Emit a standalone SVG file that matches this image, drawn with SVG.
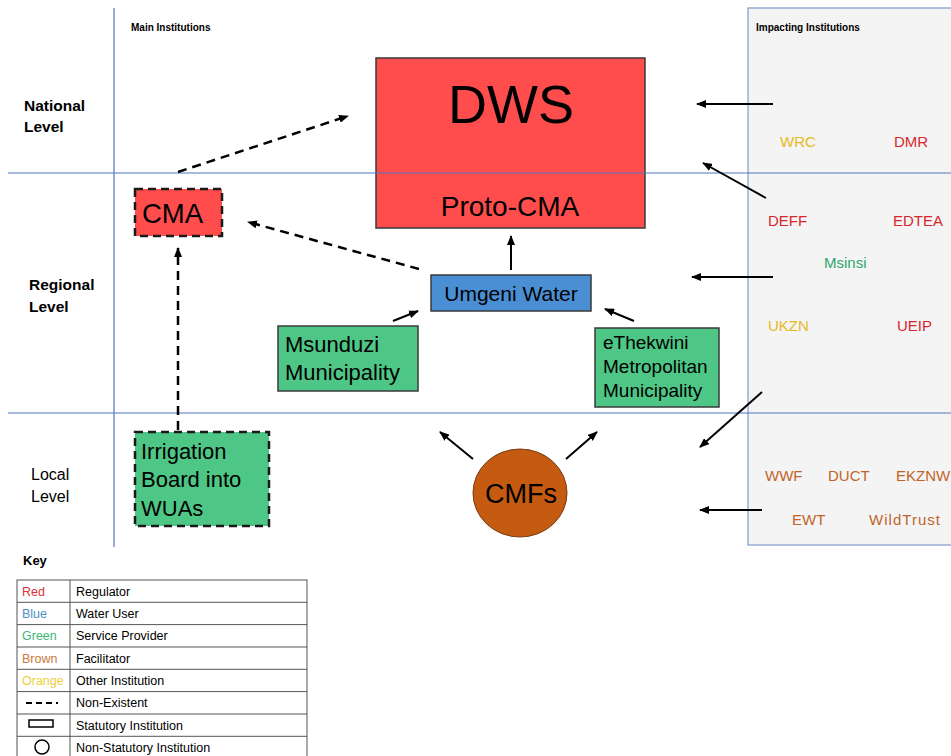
<svg xmlns="http://www.w3.org/2000/svg" width="951" height="756" viewBox="0 0 951 756">
<defs>
<marker id="ah" markerWidth="10" markerHeight="8" refX="9" refY="4" orient="auto" markerUnits="userSpaceOnUse">
<path d="M0,0 L10,4 L0,8 Z" fill="#000"/>
</marker>
<style>
text{font-family:"Liberation Sans",Arial,sans-serif;fill:#000}
.grid{stroke:#5477bf;stroke-width:1.2;fill:none}
.box{stroke:#3a3a3a;stroke-width:1.5}
.dashbox{stroke:#1a1a1a;stroke-width:2.5;stroke-dasharray:8,5}
.red{fill:#ff4d4d}
.blue{fill:#4a8fd4}
.green{fill:#4ec786}
.brown{fill:#c55a11}
.conn{stroke:#000;stroke-width:2;fill:none;marker-end:url(#ah)}
.dconn{stroke:#000;stroke-width:2.5;fill:none;stroke-dasharray:9,6;marker-end:url(#ah)}
.lvl{font-weight:bold;font-size:15.5px}
.hdr{font-weight:bold;font-size:10px}
.imp{font-size:15px}
.key{font-size:12.5px}
.tbl{stroke:#555;stroke-width:1;fill:none}
</style>
</defs>
<rect width="951" height="756" fill="#fff"/>
<!-- right panel -->
<rect x="748" y="8" width="210" height="537" fill="#f4f4f4" stroke="#7f9acb" stroke-width="1.2"/>
<text class="hdr" x="131" y="31">Main Institutions</text>
<text class="hdr" x="756" y="31">Impacting Institutions</text>
<text class="lvl" x="24" y="111">National</text>
<text class="lvl" x="24" y="132">Level</text>
<text class="lvl" x="29" y="290">Regional</text>
<text class="lvl" x="29" y="312">Level</text>
<text x="31" y="480" font-size="16">Local</text>
<text x="31" y="502" font-size="16">Level</text>

<g id="impacting">
<text class="imp" x="780" y="147" style="fill:#e8b923">WRC</text>
<text class="imp" x="894" y="147" style="fill:#d9262e">DMR</text>
<text class="imp" x="768" y="226" style="fill:#d9262e">DEFF</text>
<text class="imp" x="893" y="226" style="fill:#d9262e">EDTEA</text>
<text class="imp" x="824" y="268" style="fill:#2ea86b">Msinsi</text>
<text class="imp" x="768" y="331" style="fill:#e8b923">UKZN</text>
<text class="imp" x="897" y="331" style="fill:#d9262e">UEIP</text>
<text class="imp" x="765" y="481" style="fill:#c0652a">WWF</text>
<text class="imp" x="828" y="481" style="fill:#c0652a">DUCT</text>
<text class="imp" x="896" y="481" style="fill:#c0652a">EKZNW</text>
<text class="imp" x="792" y="525" style="fill:#c0652a">EWT</text>
<text class="imp" x="869" y="525" style="fill:#c0652a" textLength="71">WildTrust</text>
</g>

<g id="dws">
<rect class="box red" x="376" y="58" width="269" height="170"/>
<text x="511" y="123" font-size="54" text-anchor="middle">DWS</text>
<text x="510" y="216" font-size="28" text-anchor="middle">Proto-CMA</text>
</g>
<g id="cma">
<rect class="dashbox red" x="135" y="189" width="87" height="47"/>
<text x="142" y="223" font-size="27.5">CMA</text>
</g>
<g id="umgeni">
<rect class="box blue" x="431" y="275" width="160" height="36"/>
<text x="511" y="301" font-size="21" text-anchor="middle">Umgeni Water</text>
</g>
<g id="msunduzi">
<rect class="box green" x="278" y="326" width="140" height="65"/>
<text x="285" y="352" font-size="22">Msunduzi</text>
<text x="285" y="380" font-size="22">Municipality</text>
</g>
<g id="ethekwini">
<rect class="box green" x="595" y="328" width="124" height="79"/>
<text x="603" y="349" font-size="19">eThekwini</text>
<text x="603" y="373" font-size="19">Metropolitan</text>
<text x="603" y="397" font-size="19">Municipality</text>
</g>
<g id="irrigation">
<rect class="dashbox green" x="135" y="432" width="134" height="94"/>
<text x="141" y="459" font-size="22">Irrigation</text>
<text x="141" y="487" font-size="22">Board into</text>
<text x="141" y="516" font-size="22">WUAs</text>
</g>
<g id="cmfs">
<ellipse class="brown" cx="520" cy="493" rx="47" ry="44" stroke="#7a3a10" stroke-width="1"/>
<text x="521" y="503" font-size="27" text-anchor="middle">CMFs</text>
</g>

<g id="grid">
<line class="grid" x1="8" y1="173" x2="951" y2="173"/>
<line class="grid" x1="8" y1="413" x2="951" y2="413"/>
<line class="grid" x1="114" y1="8" x2="114" y2="547"/>
</g>

<g id="connectors">
<line class="dconn" x1="178" y1="172" x2="348" y2="116"/>
<line class="dconn" x1="419" y1="269" x2="248" y2="222"/>
<line class="dconn" x1="178" y1="430" x2="178" y2="248"/>
<line class="conn" x1="511" y1="270" x2="511" y2="236"/>
<line class="conn" x1="393" y1="321" x2="418" y2="311"/>
<line class="conn" x1="634" y1="321" x2="605" y2="309"/>
<line class="conn" x1="473" y1="459" x2="440" y2="432"/>
<line class="conn" x1="566" y1="459" x2="597" y2="432"/>
<line class="conn" x1="773" y1="104" x2="697" y2="104"/>
<line class="conn" x1="766" y1="198" x2="703" y2="163"/>
<line class="conn" x1="773" y1="277" x2="692" y2="277"/>
<line class="conn" x1="762" y1="392" x2="700" y2="447"/>
<line class="conn" x1="762" y1="510" x2="700" y2="510"/>
</g>

<g id="key">
<text x="23" y="565" font-size="13" font-weight="bold">Key</text>
<rect class="tbl" x="17" y="580" width="290" height="178"/>
<line class="tbl" x1="70" y1="580" x2="70" y2="758"/>
<line class="tbl" x1="17" y1="602.3" x2="307" y2="602.3"/>
<line class="tbl" x1="17" y1="624.6" x2="307" y2="624.6"/>
<line class="tbl" x1="17" y1="647" x2="307" y2="647"/>
<line class="tbl" x1="17" y1="669.3" x2="307" y2="669.3"/>
<line class="tbl" x1="17" y1="691.6" x2="307" y2="691.6"/>
<line class="tbl" x1="17" y1="714" x2="307" y2="714"/>
<line class="tbl" x1="17" y1="736.3" x2="307" y2="736.3"/>
<text class="key" x="22" y="596" style="fill:#e0303a">Red</text>
<text class="key" x="22" y="618" style="fill:#4a90c8">Blue</text>
<text class="key" x="22" y="640" style="fill:#3cb878">Green</text>
<text class="key" x="22" y="663" style="fill:#c87a40">Brown</text>
<text class="key" x="22" y="685" style="fill:#ecd040">Orange</text>
<line x1="26" y1="703" x2="58" y2="703" stroke="#000" stroke-width="2" stroke-dasharray="6,4"/>
<rect x="29" y="720" width="24" height="7" fill="none" stroke="#000" stroke-width="1.5"/>
<circle cx="42" cy="747" r="7" fill="none" stroke="#000" stroke-width="1.5"/>
<text class="key" x="76" y="596">Regulator</text>
<text class="key" x="76" y="618">Water User</text>
<text class="key" x="76" y="640">Service Provider</text>
<text class="key" x="76" y="663">Facilitator</text>
<text class="key" x="76" y="685">Other Institution</text>
<text class="key" x="76" y="707">Non-Existent</text>
<text class="key" x="76" y="730">Statutory Institution</text>
<text class="key" x="76" y="752">Non-Statutory Institution</text>
</g>
</svg>
